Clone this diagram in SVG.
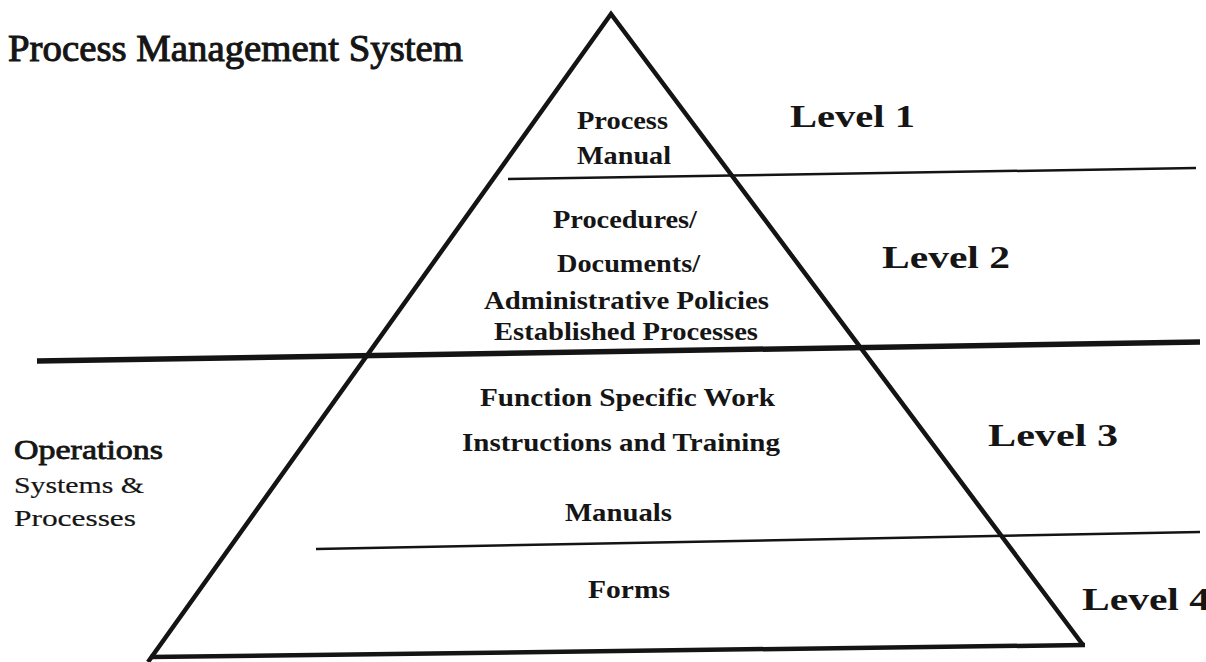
<svg xmlns="http://www.w3.org/2000/svg" width="1206" height="662" viewBox="0 0 1206 662">
  <style>
    .t { font-family: "Liberation Serif", "Times New Roman", serif; fill: #151515; stroke: #151515; stroke-width: 0.4; }
    .lvl { font-family: "Liberation Serif", "Times New Roman", serif; font-weight: bold; font-size: 32px; fill: #151515; }
    .in { font-family: "Liberation Serif", "Times New Roman", serif; font-weight: bold; font-size: 26px; fill: #151515; }
    .ln { stroke: #141414; fill: none; stroke-linecap: butt; }
  </style>
  <rect width="1206" height="662" fill="#ffffff"/>

  <!-- pyramid outline and band dividers -->
  <g id="connectors">
    <path class="ln" d="M148 662 L611 14 L1083 645" stroke-width="4.5" stroke-linejoin="miter"/>
    <line class="ln" x1="150" y1="657" x2="1085" y2="645" stroke-width="4.5"/>
    <line class="ln" x1="508" y1="179" x2="1196" y2="168" stroke-width="2.5"/>
    <line class="ln" x1="37" y1="361" x2="1200" y2="342" stroke-width="5.5"/>
    <line class="ln" x1="316" y1="549" x2="1200" y2="532" stroke-width="2.5"/>
  </g>

  <g id="title">
    <text class="t" x="8" y="61" font-size="37" textLength="455" lengthAdjust="spacingAndGlyphs" style="stroke-width:1">Process Management System</text>
  </g>

  <g id="level1">
    <text class="in" x="577" y="129" textLength="91" lengthAdjust="spacingAndGlyphs">Process</text>
    <text class="in" x="577" y="164" textLength="94" lengthAdjust="spacingAndGlyphs">Manual</text>
    <text class="lvl" x="790" y="127" textLength="125" lengthAdjust="spacingAndGlyphs">Level 1</text>
  </g>

  <g id="level2">
    <text class="in" x="553" y="228" textLength="144" lengthAdjust="spacingAndGlyphs">Procedures/</text>
    <text class="in" x="557" y="272" textLength="143" lengthAdjust="spacingAndGlyphs">Documents/</text>
    <text class="in" x="484" y="309" textLength="285" lengthAdjust="spacingAndGlyphs">Administrative Policies</text>
    <text class="in" x="494" y="340" textLength="264" lengthAdjust="spacingAndGlyphs">Established Processes</text>
    <text class="lvl" x="882" y="268" textLength="128" lengthAdjust="spacingAndGlyphs">Level 2</text>
  </g>

  <g id="level3">
    <text class="in" x="480" y="406" textLength="295" lengthAdjust="spacingAndGlyphs">Function Specific Work</text>
    <text class="in" x="462" y="451" textLength="318" lengthAdjust="spacingAndGlyphs">Instructions and Training</text>
    <text class="in" x="565" y="521" textLength="107" lengthAdjust="spacingAndGlyphs">Manuals</text>
    <text class="lvl" x="988" y="446" textLength="130" lengthAdjust="spacingAndGlyphs">Level 3</text>
  </g>

  <g id="level4">
    <text class="in" x="588" y="598" textLength="82" lengthAdjust="spacingAndGlyphs">Forms</text>
    <text class="lvl" x="1082" y="610" textLength="128" lengthAdjust="spacingAndGlyphs">Level 4</text>
  </g>

  <g id="operations">
    <text class="t" x="14" y="459" font-size="27" textLength="149" lengthAdjust="spacingAndGlyphs" style="stroke-width:0.8">Operations</text>
    <text class="t" x="14" y="493" font-size="24" textLength="130" lengthAdjust="spacingAndGlyphs" style="stroke-width:0.2">Systems &amp;</text>
    <text class="t" x="14" y="526" font-size="24" textLength="122" lengthAdjust="spacingAndGlyphs" style="stroke-width:0.2">Processes</text>
  </g>
</svg>
